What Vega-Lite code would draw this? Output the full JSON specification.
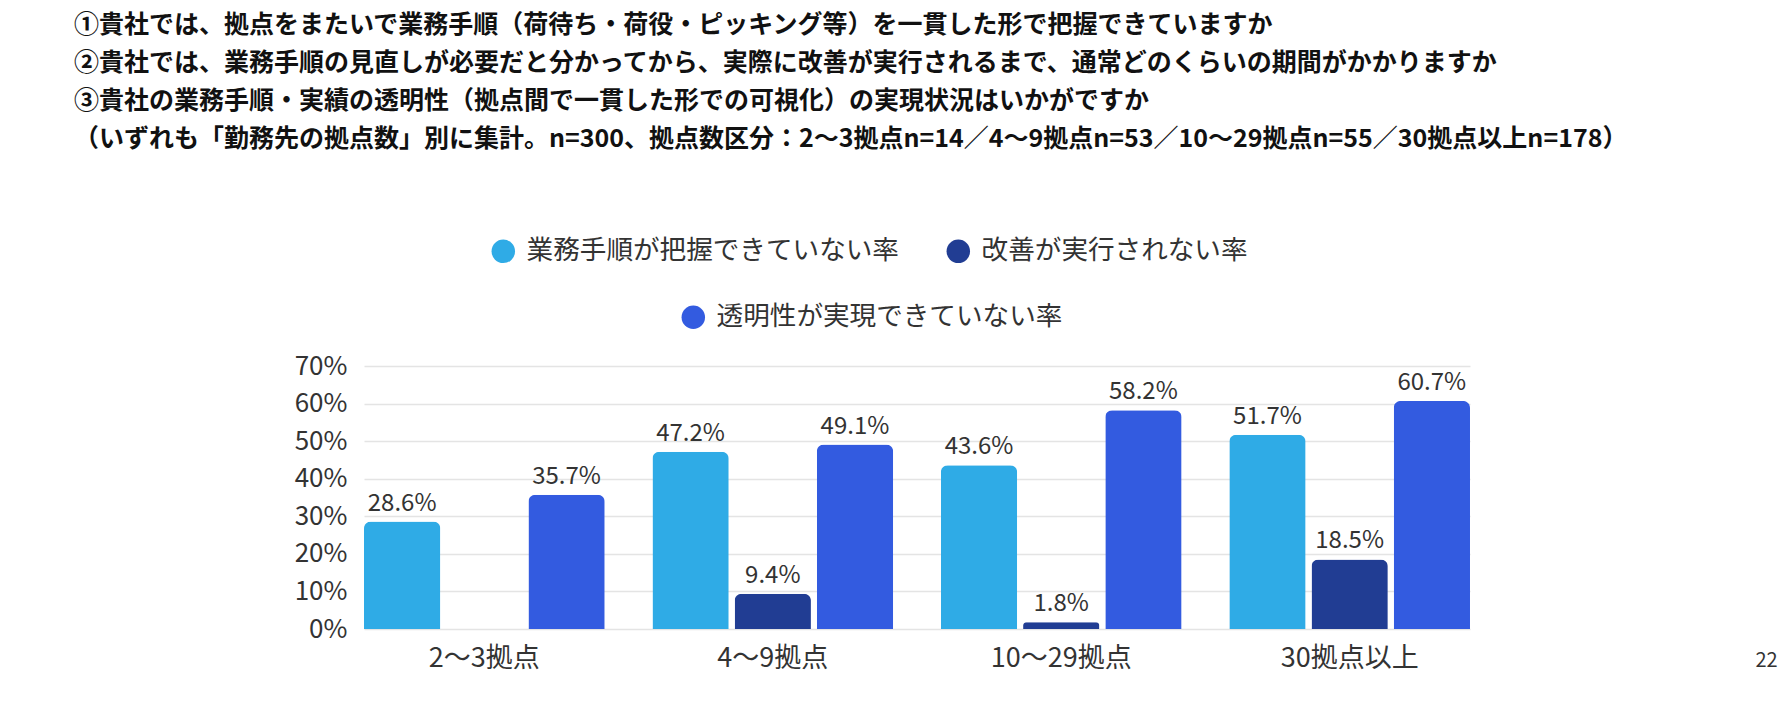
{
  "$schema": "https://vega.github.io/schema/vega-lite/v6.json",
  "width": 1106,
  "height": 263,
  "autosize": {"type": "none"},
  "padding": {"left": 364, "top": 366, "right": 316, "bottom": 75},
  "background": "white",
  "config": {"font": "Noto Sans CJK JP", "view": {"stroke": null}},
  "title": {
    "text": [
      "①貴社では、拠点をまたいで業務手順（荷待ち・荷役・ピッキング等）を一貫した形で把握できていますか",
      "②貴社では、業務手順の見直しが必要だと分かってから、実際に改善が実行されるまで、通常どのくらいの期間がかかりますか",
      "③貴社の業務手順・実績の透明性（拠点間で一貫した形での可視化）の実現状況はいかがですか",
      "（いずれも「勤務先の拠点数」別に集計。n=300、拠点数区分：2～3拠点n=14／4～9拠点n=53／10～29拠点n=55／30拠点以上n=178）"
    ],
    "anchor": "start",
    "frame": "group",
    "dx": -290,
    "dy": -86,
    "offset": 0,
    "fontSize": 25,
    "fontWeight": "bold",
    "color": "#111111",
    "lineHeight": 38
  },
  "data": {
    "values": [
      {"group": "2～3拠点", "series": "業務手順が把握できていない率", "value": 0.286},
      {"group": "2～3拠点", "series": "透明性が実現できていない率", "value": 0.357},
      {"group": "4～9拠点", "series": "業務手順が把握できていない率", "value": 0.472},
      {"group": "4～9拠点", "series": "改善が実行されない率", "value": 0.094},
      {"group": "4～9拠点", "series": "透明性が実現できていない率", "value": 0.491},
      {"group": "10～29拠点", "series": "業務手順が把握できていない率", "value": 0.436},
      {"group": "10～29拠点", "series": "改善が実行されない率", "value": 0.018},
      {"group": "10～29拠点", "series": "透明性が実現できていない率", "value": 0.582},
      {"group": "30拠点以上", "series": "業務手順が把握できていない率", "value": 0.517},
      {"group": "30拠点以上", "series": "改善が実行されない率", "value": 0.185},
      {"group": "30拠点以上", "series": "透明性が実現できていない率", "value": 0.607}
    ]
  },
  "encoding": {
    "x": {
      "field": "group",
      "type": "nominal",
      "sort": ["2～3拠点", "4～9拠点", "10～29拠点", "30拠点以上"],
      "scale": {"paddingInner": 0.1655, "paddingOuter": 0},
      "axis": {
        "title": "22",
        "titleX": 1402,
        "titleY": 31,
        "titleAlign": "center",
        "titleBaseline": "middle",
        "titleFontSize": 20,
        "titleFontWeight": "normal",
        "titleColor": "#333333",
        "labelAngle": 0,
        "labelFontSize": 27,
        "labelColor": "#333333",
        "labelPadding": 16,
        "domain": false,
        "ticks": false,
        "grid": false
      }
    },
    "xOffset": {
      "field": "series",
      "type": "nominal",
      "scale": {
        "domain": ["業務手順が把握できていない率", "改善が実行されない率", "透明性が実現できていない率"],
        "paddingInner": 0.072
      }
    },
    "y": {
      "field": "value",
      "type": "quantitative",
      "scale": {"domain": [0, 0.7]},
      "axis": {
        "title": null,
        "format": ".0%",
        "values": [0, 0.1, 0.2, 0.3, 0.4, 0.5, 0.6, 0.7],
        "labelFontSize": 26,
        "labelColor": "#333333",
        "labelPadding": 17,
        "domain": false,
        "ticks": false,
        "gridColor": "#e4e4e4",
        "gridWidth": 1.5
      }
    }
  },
  "layer": [
    {
      "transform": [{"filter": "datum.series !== '透明性が実現できていない率'"}],
      "mark": {"type": "bar", "cornerRadiusTopLeft": 7, "cornerRadiusTopRight": 7},
      "encoding": {
        "color": {
          "field": "series",
          "type": "nominal",
          "scale": {
            "domain": ["業務手順が把握できていない率", "改善が実行されない率"],
            "range": ["#2FABE6", "#213D93"]
          },
          "legend": {
            "title": null,
            "orient": "none",
            "legendX": 126,
            "legendY": -128,
            "direction": "horizontal",
            "symbolType": "circle",
            "symbolSize": 550,
            "symbolStrokeWidth": 0,
            "labelFontSize": 26.6,
            "labelColor": "#333333",
            "labelOffset": 10,
            "labelLimit": 0,
            "columnPadding": 46
          }
        }
      }
    },
    {
      "transform": [{"filter": "datum.series === '透明性が実現できていない率'"}],
      "mark": {"type": "bar", "cornerRadiusTopLeft": 7, "cornerRadiusTopRight": 7},
      "encoding": {
        "color": {
          "field": "series",
          "type": "nominal",
          "scale": {
            "domain": ["透明性が実現できていない率"],
            "range": ["#335BE0"]
          },
          "legend": {
            "title": null,
            "orient": "none",
            "legendX": 316,
            "legendY": -62,
            "direction": "horizontal",
            "symbolType": "circle",
            "symbolSize": 550,
            "symbolStrokeWidth": 0,
            "labelFontSize": 26.6,
            "labelColor": "#333333",
            "labelOffset": 10,
            "labelLimit": 0
          }
        }
      }
    },
    {
      "mark": {"type": "text", "baseline": "bottom", "dy": -6, "fontSize": 24, "color": "#333333"},
      "encoding": {
        "text": {"field": "value", "type": "quantitative", "format": ".1%"}
      }
    }
  ],
  "resolve": {"scale": {"color": "independent"}}
}
